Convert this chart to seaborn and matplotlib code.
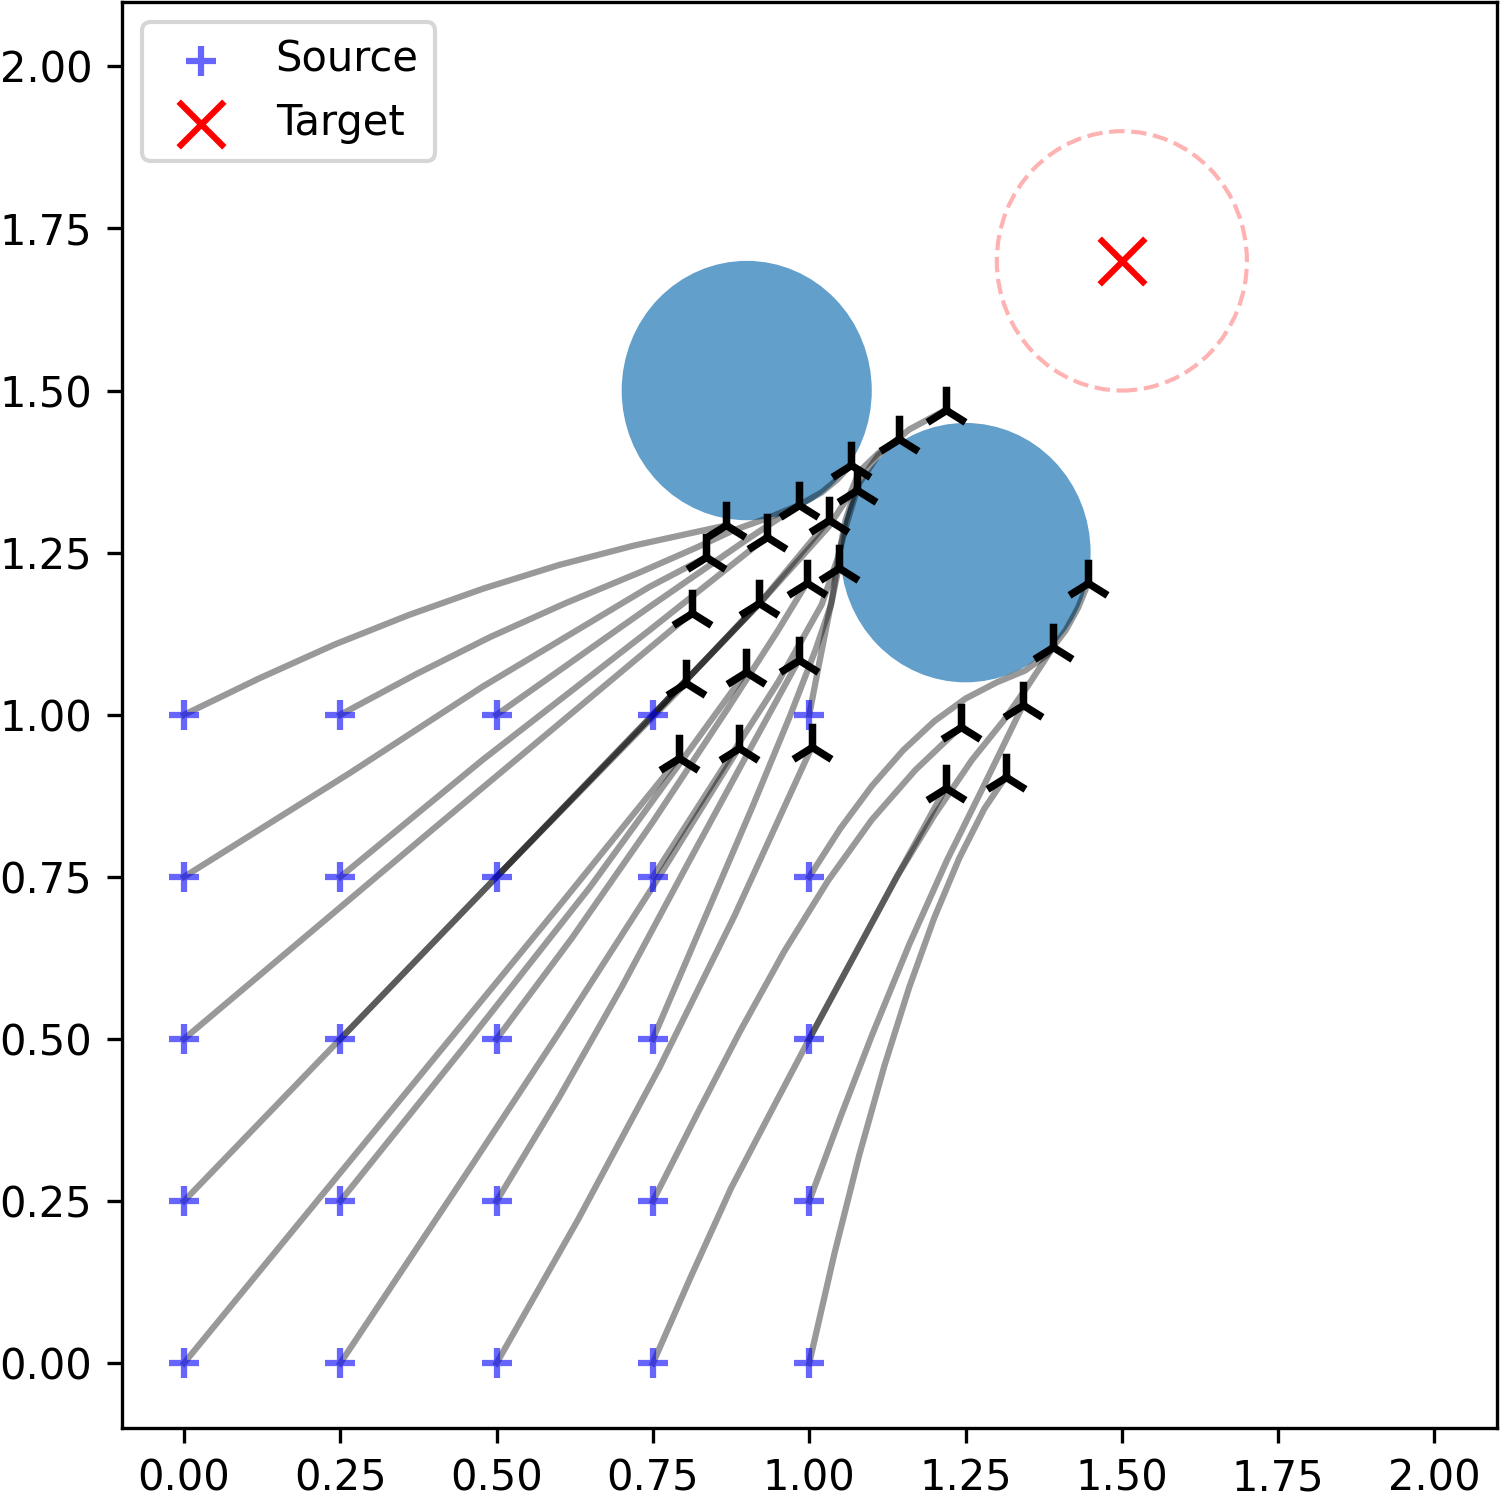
import matplotlib
matplotlib.use("Agg")
import matplotlib.pyplot as plt
from matplotlib.patches import Circle
import pandas as pd
import seaborn as sns

# trajectories, one list per source (first point = source, last = end)
path_x = [
    [0.00, 0.20, 0.40, 0.60, 0.792],
    [0.25, 0.45, 0.60, 0.75, 0.887],
    [0.50, 0.63, 0.76, 0.88, 1.004],
    [0.75, 0.81, 0.875, 0.94, 1.00, 1.07, 1.14, 1.218],
    [1.00, 1.04, 1.08, 1.12, 1.16, 1.20, 1.24, 1.28, 1.314],
    [0.00, 0.25, 0.50, 0.803],
    [0.25, 0.45, 0.65, 0.899],
    [0.50, 0.60, 0.70, 0.80, 0.89, 0.983],
    [0.75, 0.82, 0.89, 0.96, 1.03, 1.10, 1.17, 1.242],
    [1.00, 1.05, 1.10, 1.16, 1.22, 1.28, 1.342],
    [0.00, 0.40, 0.812],
    [0.25, 0.50, 0.80, 0.919],
    [0.50, 0.62, 0.75, 0.87, 0.95, 0.996],
    [0.75, 0.83, 0.91, 0.97, 1.01, 1.035, 1.047],
    [1.00, 1.07, 1.14, 1.20, 1.26, 1.31, 1.35, 1.390],
    [0.00, 0.265, 0.477, 0.744, 0.835],
    [0.25, 0.477, 0.744, 0.932],
    [0.50, 0.75, 0.919, 1.031],
    [0.75, 0.85, 0.95, 1.02, 1.045, 1.06, 1.076],
    [1.00, 1.05, 1.10, 1.15, 1.20, 1.25, 1.30, 1.345, 1.38, 1.41, 1.43, 1.446],
    [0.00, 0.12, 0.24, 0.36, 0.48, 0.60, 0.72, 0.867],
    [0.25, 0.37, 0.49, 0.61, 0.73, 0.82, 0.88, 0.93, 0.983],
    [0.50, 0.744, 0.90, 0.983, 1.02, 1.045, 1.066],
    [0.75, 0.919, 1.031, 1.065, 1.08, 1.11, 1.143],
    [1.00, 1.015, 1.036, 1.048, 1.058, 1.075, 1.11, 1.16, 1.218],
]
path_y = [
    [0.00, 0.235, 0.47, 0.705, 0.934],
    [0.00, 0.29, 0.51, 0.735, 0.948],
    [0.00, 0.221, 0.455, 0.689, 0.950],
    [0.00, 0.132, 0.27, 0.39, 0.50, 0.625, 0.75, 0.887],
    [0.00, 0.168, 0.321, 0.458, 0.580, 0.687, 0.779, 0.855, 0.904],
    [0.25, 0.50, 0.75, 1.049],
    [0.25, 0.49, 0.735, 1.066],
    [0.25, 0.41, 0.58, 0.76, 0.92, 1.084],
    [0.25, 0.383, 0.513, 0.635, 0.744, 0.838, 0.915, 0.981],
    [0.25, 0.38, 0.505, 0.646, 0.775, 0.892, 1.015],
    [0.50, 0.825, 1.157],
    [0.50, 0.75, 1.05, 1.172],
    [0.50, 0.655, 0.835, 1.01, 1.13, 1.203],
    [0.50, 0.68, 0.86, 1.00, 1.10, 1.17, 1.227],
    [0.50, 0.625, 0.75, 0.845, 0.93, 0.99, 1.045, 1.104],
    [0.75, 0.91, 1.043, 1.197, 1.243],
    [0.75, 0.93, 1.13, 1.274],
    [0.75, 1.00, 1.17, 1.300],
    [0.75, 0.90, 1.05, 1.17, 1.24, 1.295, 1.346],
    [0.75, 0.825, 0.89, 0.945, 0.99, 1.025, 1.05, 1.068, 1.092, 1.13, 1.165, 1.203],
    [1.00, 1.056, 1.108, 1.154, 1.195, 1.231, 1.261, 1.292],
    [1.00, 1.062, 1.12, 1.172, 1.22, 1.258, 1.285, 1.302, 1.323],
    [1.00, 1.166, 1.27, 1.323, 1.343, 1.363, 1.385],
    [1.00, 1.17, 1.29, 1.34, 1.375, 1.403, 1.426],
    [1.00, 1.075, 1.177, 1.25, 1.30, 1.35, 1.40, 1.44, 1.470],
]

obstacle_x = [0.9, 1.25]
obstacle_y = [1.5, 1.25]
obstacle_r = [0.2, 0.2]

target_x = [1.5]
target_y = [1.7]
target_r = 0.2

ticks = [0.0, 0.25, 0.5, 0.75, 1.0, 1.25, 1.5, 1.75, 2.0]

rows = []
for i, (xs, ys) in enumerate(zip(path_x, path_y)):
    for k, (x, y) in enumerate(zip(xs, ys)):
        rows.append({"path": i, "step": k, "x": x, "y": y})
df = pd.DataFrame(rows)
starts = df.groupby("path").first()
ends = df.groupby("path").last()

fig = plt.figure(figsize=(5, 5), dpi=300)
ax = fig.add_axes([0.081, 0.048, 0.917, 0.951])

for cx, cy, r in zip(obstacle_x, obstacle_y, obstacle_r):
    ax.add_patch(Circle((cx, cy), r, facecolor="tab:blue", edgecolor="none",
                        linewidth=0, alpha=0.7, zorder=1))
ax.add_patch(Circle((target_x[0], target_y[0]), target_r, fill=False,
                    edgecolor="red", alpha=0.3, linestyle="--", linewidth=1.0, zorder=1))

sns.lineplot(data=df, x="x", y="y", units="path", estimator=None, sort=False,
             color="black", alpha=0.4, linewidth=1.5, legend=False, ax=ax, zorder=2)

sns.scatterplot(x=starts["x"], y=starts["y"], marker="+", color="blue", alpha=0.6,
                s=50, linewidth=1.5, label="Source", ax=ax, zorder=3)
sns.scatterplot(x=target_x, y=target_y, marker="x", color="red", s=120,
                linewidth=1.5, label="Target", ax=ax, zorder=3)
sns.scatterplot(x=ends["x"], y=ends["y"], marker="2", color="black", s=130,
                linewidth=1.8, ax=ax, zorder=4)

ax.set_xlim(-0.1, 2.1)
ax.set_ylim(-0.1, 2.1)
ax.set_xticks(ticks)
ax.set_yticks(ticks)
ax.set_xlabel("")
ax.set_ylabel("")
ax.legend(loc="upper left")

fig.savefig("out.png", dpi=300)
